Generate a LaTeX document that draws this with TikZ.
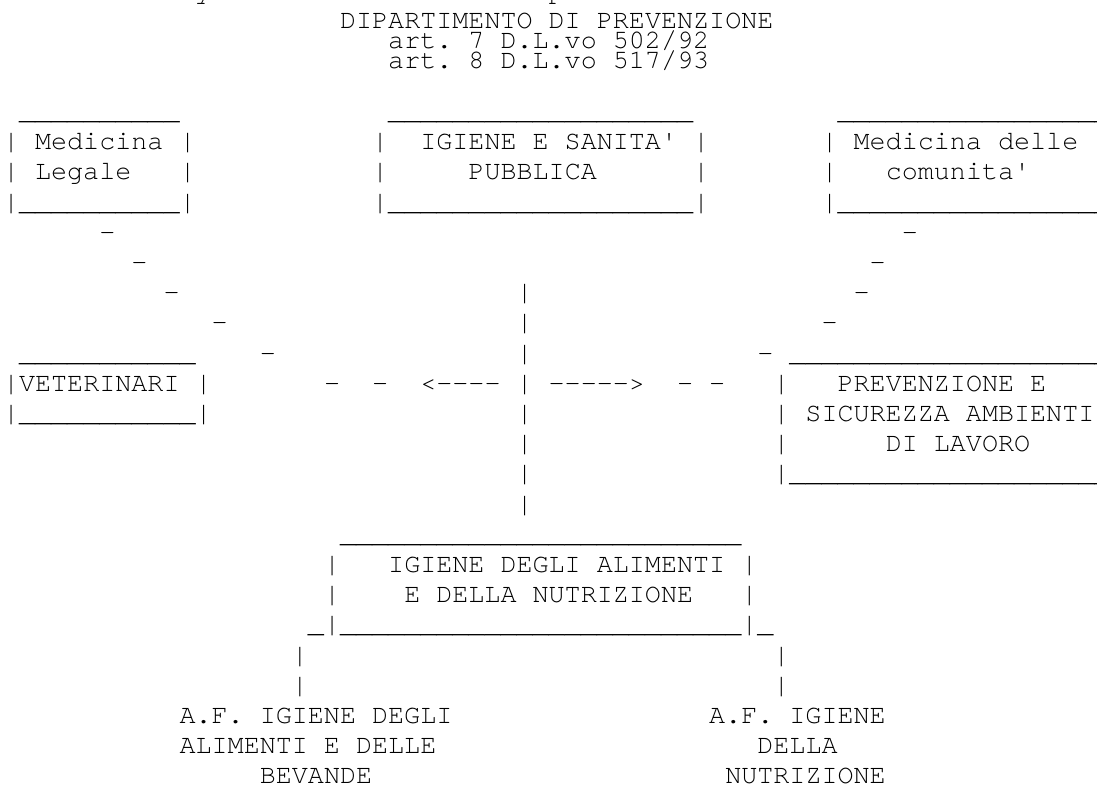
\documentclass[tikz,border=0pt]{standalone}
\usepackage{fontspec}
\usepackage{tikz}
\setmonofont{texgyrecursor-regular.otf}
\newcommand\undr[1]{\foreach\k in {1,...,#1}{\_}}
\tikzset{ch/.style={anchor=base west,inner sep=0pt,outer sep=0pt,font=\ttfamily\fontsize{26.75}{30}\selectfont}}

\begin{document}
\begin{tikzpicture}[x=16.05pt,y=-30.2pt]
        \useasboundingbox (-3pt,28.8pt) rectangle ++(1097pt,-785pt);
        \node[ch] (cuty) at (12,-0.97) {y};
        \node[ch] (cutp) at (34,-0.97) {p};
        \node[ch] (dip) at (21,0) {DIPARTIMENTO DI PREVENZIONE};
        \node[ch] (art7) at (24,0.662) {art. 7 D.L.vo 502/92};
        \node[ch] (art8) at (24,1.324) {art. 8 D.L.vo 517/93};
        % Medicina Legale
        \node[ch] (legtop) at (1,3) {\undr{10}};
        \node[ch] (leg1) at (0,4) {| Medicina |};
        \node[ch] (leg2) at (0,5) {| Legale};
        \node[ch] (leg2r) at (11,5) {|};
        \node[ch] (legbot) at (0,6) {|\undr{10}|};
        % Igiene e sanita' pubblica
        \node[ch] (isptop) at (24,3) {\undr{19}};
        \node[ch] (isp1l) at (23,4) {|};
        \node[ch] (isp1) at (26,4) {IGIENE E SANITA' |};
        \node[ch] (isp2l) at (23,5) {|};
        \node[ch] (isp2) at (29,5) {PUBBLICA};
        \node[ch] (isp2r) at (43,5) {|};
        \node[ch] (ispbot) at (23,6) {|\undr{19}|};
        % Medicina delle comunita'
        \node[ch] (comtop) at (52,3) {\undr{17}};
        \node[ch] (com1) at (51,4) {| Medicina delle};
        \node[ch] (com2l) at (51,5) {|};
        \node[ch] (com2) at (55,5) {comunita'};
        \node[ch] (combot) at (51,6) {|\undr{17}};
        % diagonals and trunk
        \node[ch] (dl1) at (6,7) {-};
        \node[ch] (dl2) at (8,8) {-};
        \node[ch] (dl3) at (10,9) {-};
        \node[ch] (dl4) at (13,10) {-};
        \node[ch] (dl5) at (16,11) {-};
        \node[ch] (dr1) at (56,7) {-};
        \node[ch] (dr2) at (54,8) {-};
        \node[ch] (dr3) at (53,9) {-};
        \node[ch] (dr4) at (51,10) {-};
        \node[ch] (dr5) at (47,11) {-};
        \foreach \r in {9,...,11,13,14,15,16}
            \node[ch] (trunk\r) at (32,\r) {|};
        % Veterinari
        \node[ch] (vettop) at (1,11) {\undr{11}};
        \node[ch] (vet) at (0,12) {|VETERINARI |};
        \node[ch] (vetbot) at (0,13) {|\undr{11}|};
        \node[ch] (hl1) at (20,12) {-};
        \node[ch] (hl2) at (23,12) {-};
        \node[ch] (arl) at (26,12) {<----};
        \node[ch] (arr) at (32,12) {| ----->};
        \node[ch] (hr1) at (42,12) {-};
        \node[ch] (hr2) at (44,12) {-};
        % Prevenzione e sicurezza
        \node[ch] (prvtop) at (49,11) {\undr{20}};
        \node[ch] (prv1l) at (48,12) {|};
        \node[ch] (prv1) at (52,12) {PREVENZIONE E};
        \node[ch] (prv2) at (48,13) {| SICUREZZA AMBIENTI};
        \node[ch] (prv3l) at (48,14) {|};
        \node[ch] (prv3) at (55,14) {DI LAVORO};
        \node[ch] (prvbot) at (48,15) {|\undr{20}};
        % Igiene degli alimenti e della nutrizione
        \node[ch] (ialtop) at (21,17) {\undr{25}};
        \node[ch] (ial1l) at (20,18) {|};
        \node[ch] (ial1) at (24,18) {IGIENE DEGLI ALIMENTI |};
        \node[ch] (ial2l) at (20,19) {|};
        \node[ch] (ial2) at (25,19) {E DELLA NUTRIZIONE};
        \node[ch] (ial2r) at (46,19) {|};
        \node[ch] (ialbot) at (19,20) {\_|\undr{25}|\_};
        \foreach \r in {21,22} {
            \node[ch] (brl\r) at (18,\r) {|};
            \node[ch] (brr\r) at (48,\r) {|};
        }
        \node[ch] (afa1) at (11,23) {A.F. IGIENE DEGLI};
        \node[ch] (afa2) at (11,24) {ALIMENTI E DELLE};
        \node[ch] (afa3) at (16,25) {BEVANDE};
        \node[ch] (afn1) at (44,23) {A.F. IGIENE};
        \node[ch] (afn2) at (47,24) {DELLA};
        \node[ch] (afn3) at (45,25) {NUTRIZIONE};
\end{tikzpicture}
\end{document}
